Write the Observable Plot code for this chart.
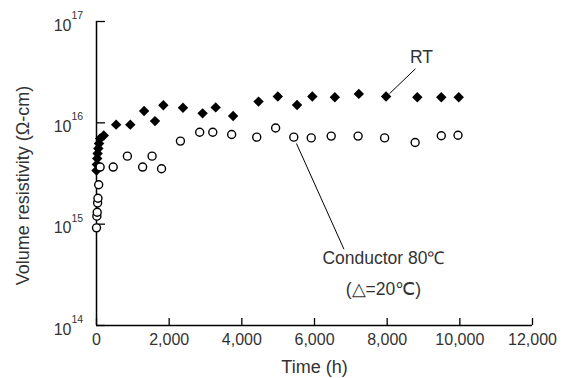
<!DOCTYPE html>
<html><head><meta charset="utf-8">
<script src="https://cdn.jsdelivr.net/npm/d3@7"></script>
<script src="https://cdn.jsdelivr.net/npm/@observablehq/plot@0.6"></script>
<style>body{margin:0;background:#fff;}</style>
</head><body><div id="chart"></div>
<script>
// RT series (filled diamonds)
const rtTime  = [0, 10, 20, 30, 50, 70, 100, 200, 540, 930, 1310, 1610, 1840, 2380, 2920, 3280, 3760, 4460, 4990, 5520, 5940, 6560, 7220, 7970, 8830, 9490, 9970];
const rtValue = [3.39e15, 3.88e15, 4.45e15, 4.99e15, 5.58e15, 6.25e15, 7.0e15, 7.5e15, 9.6e15, 9.6e15, 1.31e16, 1.04e16, 1.49e16, 1.41e16, 1.24e16, 1.42e16, 1.17e16, 1.62e16, 1.82e16, 1.50e16, 1.82e16, 1.79e16, 1.93e16, 1.82e16, 1.79e16, 1.79e16, 1.79e16];
// Conductor 80°C series (open circles)
const condTime  = [0, 10, 20, 30, 40, 60, 100, 460, 850, 1270, 1530, 1790, 2310, 2840, 3200, 3720, 4410, 4930, 5430, 5910, 6460, 7200, 7930, 8770, 9490, 9950];
const condValue = [9.2e14, 1.2e15, 1.31e15, 1.62e15, 1.8e15, 2.45e15, 3.66e15, 3.66e15, 4.69e15, 3.66e15, 4.69e15, 3.52e15, 6.6e15, 8.08e15, 8.08e15, 7.67e15, 7.22e15, 8.9e15, 7.22e15, 7.1e15, 7.4e15, 7.4e15, 7.1e15, 6.4e15, 7.45e15, 7.55e15];

const xTicks = [0, 2000, 4000, 6000, 8000, 10000, 12000];
const xTickLabels = ["0", "2,000", "4,000", "6,000", "8,000", "10,000", "12,000"];
const yTicks = [1e14, 1e15, 1e16, 1e17];
const yTickBase = ["10", "10", "10", "10"];
const yTickExp = ["14", "15", "16", "17"];
const xTitle = "Time (h)";
const yTitle = "Volume resistivity (Ω-cm)";

// annotations
const labelText  = ["RT", "Conductor 80℃", "(△=20℃)"];
const labelTime  = [8944, 7898, 7898];
const labelValue = [4.4e16, 4.6e14, 2.29e14];
const leaderT1 = [8064, 5504];
const leaderV1 = [1.94e16, 6.25e15];
const leaderT2 = [8779, 6811];
const leaderV2 = [3.42e16, 5.66e14];

const rt = rtTime.map((t, i) => ({t, v: rtValue[i]}));
const cond = condTime.map((t, i) => ({t, v: condValue[i]}));
const labels = labelText.map((s, i) => ({s, t: labelTime[i], v: labelValue[i]}));
const leaders = leaderT1.map((t, i) => ({t1: t, v1: leaderV1[i], t2: leaderT2[i], v2: leaderV2[i]}));
const yt = yTicks.map((v, i) => ({v, b: yTickBase[i], e: yTickExp[i]}));
const xt = xTicks.map((t, i) => ({t, s: xTickLabels[i]}));

const txt = "#333";
const chart = Plot.plot({
  width: 565, height: 378,
  marginLeft: 96, marginRight: 33, marginTop: 21, marginBottom: 53,
  style: {fontFamily: "'Liberation Sans', Arial, sans-serif", background: "#fff", color: txt},
  x: {domain: [0, 12000], axis: null},
  y: {type: "log", domain: [1e14, 1e17], axis: null},
  marks: [
    Plot.ruleX([0], {stroke: "#000", strokeWidth: 1.5}),
    Plot.ruleY([1e14], {stroke: "#000", strokeWidth: 1.5}),
    Plot.tickY(yTicks, {y: d => d, stroke: "#000", strokeWidth: 1.3, insetRight: 436 - 9}),
    Plot.tickX(xTicks, {x: d => d, stroke: "#000", strokeWidth: 1.3, insetTop: 304 - 7}),
    Plot.text(xt, {x: "t", frameAnchor: "bottom", text: "s", lineAnchor: "top", dy: 8, fontSize: 16, fill: txt}),
    Plot.text(yt, {frameAnchor: "left", y: "v", text: "b", textAnchor: "end", dx: -25, dy: 4, fontSize: 16, fill: txt}),
    Plot.text(yt, {frameAnchor: "left", y: "v", text: "e", textAnchor: "start", dx: -25, dy: -6, fontSize: 10.5, fill: txt}),
    Plot.text([xTitle], {frameAnchor: "bottom", lineAnchor: "top", textAnchor: "middle", dy: 35, fontSize: 18, fill: txt}),
    Plot.text([yTitle], {frameAnchor: "left", rotate: -90, textAnchor: "middle", lineAnchor: "middle", dx: -73, dy: 12, fontSize: 18, fill: txt}),
    Plot.link(leaders, {x1: "t1", y1: "v1", x2: "t2", y2: "v2", stroke: "#000", strokeWidth: 1}),
    Plot.dot(rt, {x: "t", y: "v", symbol: "diamond2", r: 4.7, fill: "#000", stroke: "none"}),
    Plot.dot(cond, {x: "t", y: "v", symbol: "circle", r: 4, fill: "#fff", stroke: "#000", strokeWidth: 1.4}),
    Plot.text(labels, {x: "t", y: "v", text: "s", textAnchor: d => d.s === "RT" ? "start" : "middle", fontSize: 17.5, fill: txt})
  ]
});
document.getElementById("chart").appendChild(chart);
</script>
</body></html>
